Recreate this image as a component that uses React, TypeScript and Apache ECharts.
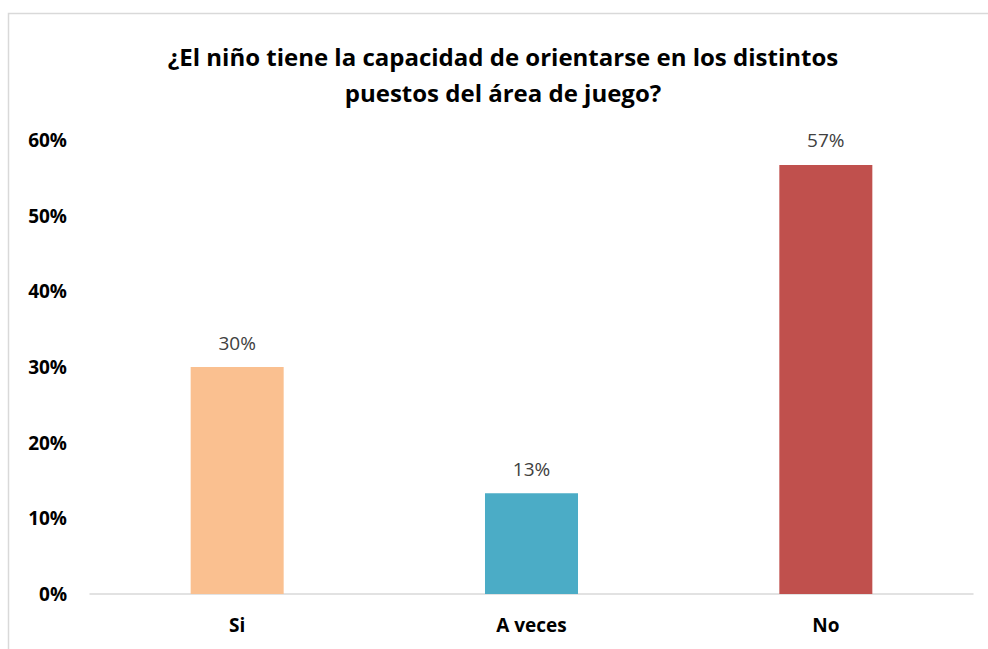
import React, { useEffect, useRef } from "react";
import * as echarts from "echarts";

const categories = ["Si", "A veces", "No"];
const values = [30.0, 13.3, 56.7];
const barColors = ["#FAC090", "#4BACC6", "#C0504D"];
const yTicks = [0, 10, 20, 30, 40, 50, 60];
const titleText = "¿El niño tiene la capacidad de orientarse en los distintos\npuestos del área de juego?";

export default function App() {
  const ref = useRef<HTMLDivElement>(null);
  useEffect(() => {
    if (!ref.current) return;
    const chart = echarts.init(ref.current, null, { renderer: "svg" });
    chart.setOption({
      animation: false,
      backgroundColor: "#ffffff",
      title: {
        text: titleText,
        left: 498,
        textAlign: "center",
        top: 33,
        textStyle: {
          fontFamily: "Open Sans",
          fontWeight: "bold",
          fontSize: 24,
          color: "#000000",
          lineHeight: 36,
        },
      },
      graphic: [
        {
          type: "rect",
          shape: { x: 8.5, y: 13.5, width: 1000, height: 700 },
          style: { fill: "none", stroke: "#d9d9d9", lineWidth: 1.5 },
          silent: true,
        },
      ],
      grid: { left: 90, right: 15, top: 140, bottom: 55, containLabel: false },
      xAxis: {
        type: "category",
        data: categories,
        axisLine: { lineStyle: { color: "#d9d9d9", width: 1.5 } },
        axisTick: { show: false },
        axisLabel: {
          color: "#000000",
          fontFamily: "Open Sans",
          fontWeight: "bold",
          fontSize: 19,
          margin: 21,
        },
      },
      yAxis: {
        type: "value",
        min: yTicks[0],
        max: yTicks[yTicks.length - 1],
        interval: 10,
        splitLine: { show: false },
        axisLine: { show: false },
        axisTick: { show: false },
        axisLabel: {
          formatter: (v: number) => `${v}%`,
          color: "#000000",
          fontFamily: "Open Sans",
          fontWeight: "bold",
          fontSize: 19,
          margin: 23,
        },
      },
      series: [
        {
          type: "bar",
          data: values.map((v, i) => ({ value: v, itemStyle: { color: barColors[i] } })),
          barWidth: "31.6%",
          label: {
            show: true,
            position: "top",
            distance: 15,
            formatter: (p: any) => `${Math.round(p.value)}%`,
            color: "#404040",
            fontFamily: "Open Sans",
            fontSize: 19,
          },
        },
      ],
    });
    return () => chart.dispose();
  }, []);
  return (
    <div
      ref={ref}
      style={{ position: "fixed", left: 0, top: 0, width: 988, height: 649 }}
    />
  );
}
